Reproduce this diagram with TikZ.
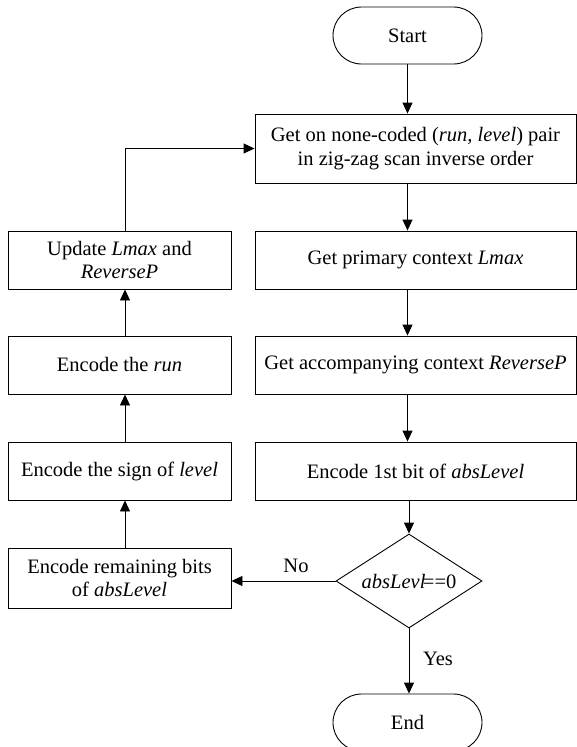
\documentclass[tikz,border=0pt]{standalone}
\usepackage{fontspec}
\setmainfont{Liberation Serif}
\usetikzlibrary{arrows.meta,shapes.geometric}

\begin{document}
\begin{tikzpicture}[x=1pt,y=-1pt,
  every node/.style={font=\fontsize{20.5}{23.5}\selectfont},
  procbox/.style={draw,line width=0.9pt,rectangle,align=center,inner sep=0pt},
  rightbox/.style={procbox,minimum width=321pt},
  leftbox/.style={procbox,minimum width=223pt},
  terminal/.style={draw,line width=0.9pt,rectangle,rounded corners=28.5pt,
    minimum width=149pt,minimum height=57pt,inner sep=0pt},
  decision/.style={draw,line width=0.9pt,diamond,shape aspect=1.55,inner sep=0pt,
    minimum width=146pt,minimum height=94pt},
  flow/.style={line width=0.9pt,-{Triangle[length=11pt,width=10pt]}},
  lbl/.style={inner sep=0pt}]

\useasboundingbox (0,0) rectangle (577,747);

% main column
\node[terminal] (start) at (407.5,35.5) {Start};
\node[rightbox,minimum height=69pt] (fetch) at (415.5,148.5)
  {Get on none-coded (\textit{run, level}) pair\\in zig-zag scan inverse order};
\node[rightbox,minimum height=58pt] (lmax) at (415.5,260) {Get primary context \textit{Lmax}};
\node[rightbox,minimum height=58pt] (revp) at (415.5,365) {Get accompanying context \textit{ReverseP}};
\node[rightbox,minimum height=58pt] (first) at (415.5,471) {Encode 1st bit of \textit{absLevel}};
\node[decision] (test) at (409,581) {\textit{absLevl}\kern-2.5pt==0};
\node[terminal] (stop) at (407.5,722.5) {End};

% feedback column
\node[leftbox,minimum height=58pt] (update) at (119.5,260) {Update \textit{Lmax} and\\\textit{ReverseP}};
\node[leftbox,minimum height=58pt] (encrun) at (119.5,365) {Encode the \textit{run}};
\node[leftbox,minimum height=58pt] (sign) at (119.5,471) {Encode the sign of \textit{level}};
\node[leftbox,minimum height=60pt] (rest) at (119.5,578) {Encode remaining bits\\of \textit{absLevel}};

\coordinate (lcol) at (125,0);

% main flow
\draw[flow] (start.south) -- (start.south |- fetch.north);
\draw[flow] (fetch.south -| start) -- (lmax.north -| start);
\draw[flow] (lmax.south -| start) -- (revp.north -| start);
\draw[flow] (revp.south -| start) -- (first.north -| start);
\draw[flow] (first.south -| test) -- (test.north);
\draw[flow] (test.south) -- (test.south |- stop.north);

% "No" branch and feedback loop
\draw[flow] (test.west) -- (test.west -| rest.east);
\draw[flow] (rest.north -| lcol) -- (sign.south -| lcol);
\draw[flow] (sign.north -| lcol) -- (encrun.south -| lcol);
\draw[flow] (encrun.north -| lcol) -- (update.south -| lcol);
\draw[flow] (update.north -| lcol) |- (fetch.west);

% branch labels
\node[lbl] (nolbl) at (296,566) {No};
\node[lbl] (yeslbl) at (438,659) {Yes};
\end{tikzpicture}
\end{document}
